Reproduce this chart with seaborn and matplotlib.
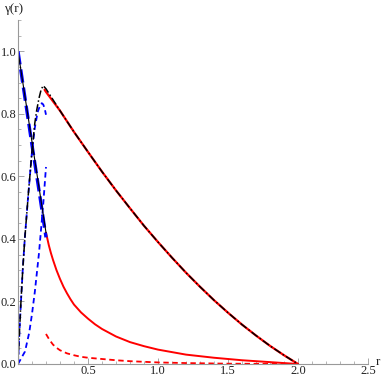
import numpy as np
import pandas as pd
import matplotlib
matplotlib.use("Agg")
import matplotlib.pyplot as plt
import seaborn as sns
from matplotlib.ticker import MultipleLocator, FixedLocator

sns.set_style("white")
plt.rcParams['font.family'] = ['Liberation Serif', 'DejaVu Serif']

# ---- data ----
# black thin solid: small-r descending branch
r_black_solid = [0.0, 0.05, 0.10, 0.15, 0.20]
g_black_solid = [1.0, 0.855, 0.71, 0.565, 0.42]

# blue long-dashed (same branch, small r)
r_blue_long = [0.0, 0.05, 0.10, 0.15, 0.20]
g_blue_long = [1.0, 0.85, 0.70, 0.555, 0.405]

# black dash-dot: full curve
r_black_dd = [0.0, 0.01, 0.02, 0.035, 0.05, 0.075, 0.10, 0.12, 0.133, 0.15, 0.165, 0.18,
              0.20, 0.30, 0.40, 0.50, 0.60, 0.70, 0.80, 0.90, 1.00, 1.10, 1.20, 1.30,
              1.40, 1.50, 1.60, 1.70, 1.80, 1.90, 2.00]
g_black_dd = [0.0, 0.10, 0.19, 0.31, 0.41, 0.55, 0.68, 0.77, 0.81, 0.85, 0.877, 0.89,
              0.88, 0.81, 0.742, 0.678, 0.615, 0.555, 0.498, 0.442, 0.39, 0.34, 0.292, 0.247,
              0.204, 0.164, 0.126, 0.091, 0.058, 0.028, 0.0]

# red solid: upper branch (r >= 0.2)
r_red_upper = [0.19, 0.20, 0.30, 0.40, 0.50, 0.60, 0.70, 0.80, 0.90, 1.00, 1.10, 1.20, 1.30,
               1.40, 1.50, 1.60, 1.70, 1.80, 1.90, 2.00]
g_red_upper = [0.877, 0.87, 0.81, 0.742, 0.678, 0.615, 0.555, 0.498, 0.442, 0.39, 0.34, 0.292,
               0.247, 0.204, 0.164, 0.126, 0.091, 0.058, 0.028, 0.0]

# red solid: decaying branch (r >= 0.2)
r_red_decay = [0.20, 0.21, 0.22, 0.235, 0.25, 0.275, 0.30, 0.325, 0.35, 0.375, 0.40, 0.45,
               0.50, 0.55, 0.60, 0.70, 0.80, 0.90, 1.00, 1.20, 1.40, 1.60, 1.80, 2.00]
g_red_decay = [0.42, 0.40, 0.38, 0.355, 0.333, 0.30, 0.272, 0.247, 0.226, 0.207, 0.19, 0.165,
               0.145, 0.127, 0.112, 0.088, 0.07, 0.057, 0.046, 0.03, 0.02, 0.012, 0.006, 0.0]

# red dashed (r >= 0.2)
r_red_dash = [0.20, 0.225, 0.25, 0.275, 0.30, 0.35, 0.40, 0.45, 0.50, 0.60, 0.70, 0.80, 1.00,
              1.20, 1.50, 2.00]
g_red_dash = [0.096, 0.077, 0.062, 0.052, 0.044, 0.034, 0.028, 0.023, 0.02, 0.016, 0.012,
              0.009, 0.005, 0.003, 0.001, 0.0]

# blue short-dashed rising curve
r_blue_short = [0.0, 0.05, 0.08, 0.10, 0.12, 0.15, 0.18, 0.20]
g_blue_short = [0.0, 0.04, 0.10, 0.16, 0.23, 0.355, 0.51, 0.63]

# blue short-dashed arc
r_blue_arc = [0.0, 0.01, 0.02, 0.035, 0.05, 0.075, 0.10, 0.12, 0.14, 0.16, 0.17, 0.18, 0.19, 0.20]
g_blue_arc = [0.0, 0.10, 0.19, 0.31, 0.41, 0.55, 0.68, 0.755, 0.805, 0.83, 0.834, 0.83, 0.818, 0.797]

x_ticks = [0.5, 1.0, 1.5, 2.0, 2.5]
y_ticks = [0.0, 0.2, 0.4, 0.6, 0.8, 1.0]

fig = plt.figure(figsize=(3.82, 3.80), dpi=100)
ax = fig.add_axes([18/382, 1-364/380, (368-18)/382, (364-20)/380])

def draw(r, g, **kw):
    df = pd.DataFrame({"r": r, "g": g})
    sns.lineplot(data=df, x="r", y="g", ax=ax, sort=False, estimator=None, **kw)

draw(r_red_decay, g_red_decay, color="#ff0000", lw=1.4)
draw(r_red_upper, g_red_upper, color="#ff0000", lw=1.6)
draw(r_red_dash, g_red_dash, color="#ff0000", lw=1.3, linestyle=(0, (3, 2)))
draw(r_blue_short, g_blue_short, color="#0000ff", lw=1.3, linestyle=(0, (3, 2)))
draw(r_blue_arc, g_blue_arc, color="#0000ff", lw=1.3, linestyle=(0, (3, 2)))
draw(r_blue_long, g_blue_long, color="#0000ff", lw=2.4, linestyle=(0, (4, 1.5)))
draw(r_black_solid, g_black_solid, color="black", lw=0.8)
draw(r_black_dd, g_black_dd, color="black", lw=1.1, linestyle=(0, (5, 1.6, 1, 1.6)))

ax.set_xlim(0, 2.5)
ax.set_ylim(0, 1.1)
ax.set_xlabel("")
ax.set_ylabel("")
for s in ["top", "right"]:
    ax.spines[s].set_visible(False)
for s in ["left", "bottom"]:
    ax.spines[s].set_color("#999999")
    ax.spines[s].set_linewidth(0.8)

ax.xaxis.set_major_locator(FixedLocator(x_ticks))
ax.yaxis.set_major_locator(FixedLocator(y_ticks))
ax.xaxis.set_minor_locator(MultipleLocator(0.1))
ax.yaxis.set_minor_locator(MultipleLocator(0.05))
ax.set_xticklabels([f"{v:.1f}" for v in x_ticks])
ax.set_yticklabels([f"{v:.1f}" for v in y_ticks])
ax.tick_params(axis="both", which="major", direction="in", length=4, width=0.6,
               color="#999999", labelsize=9, pad=1, bottom=True, left=True)
ax.tick_params(axis="both", which="minor", direction="in", length=2, width=0.5,
               color="#999999", bottom=True, left=True)
for lab in ax.get_xticklabels() + ax.get_yticklabels():
    lab.set_color("#222222")

fig.text(4/382, 1-9/380, "γ(r)", fontsize=9.5, ha="left", va="center", color="#222222")
fig.text(376/382, 1-362/380, "r", fontsize=9.5, ha="left", va="center", color="#222222")

fig.savefig("out.png", dpi=100)
